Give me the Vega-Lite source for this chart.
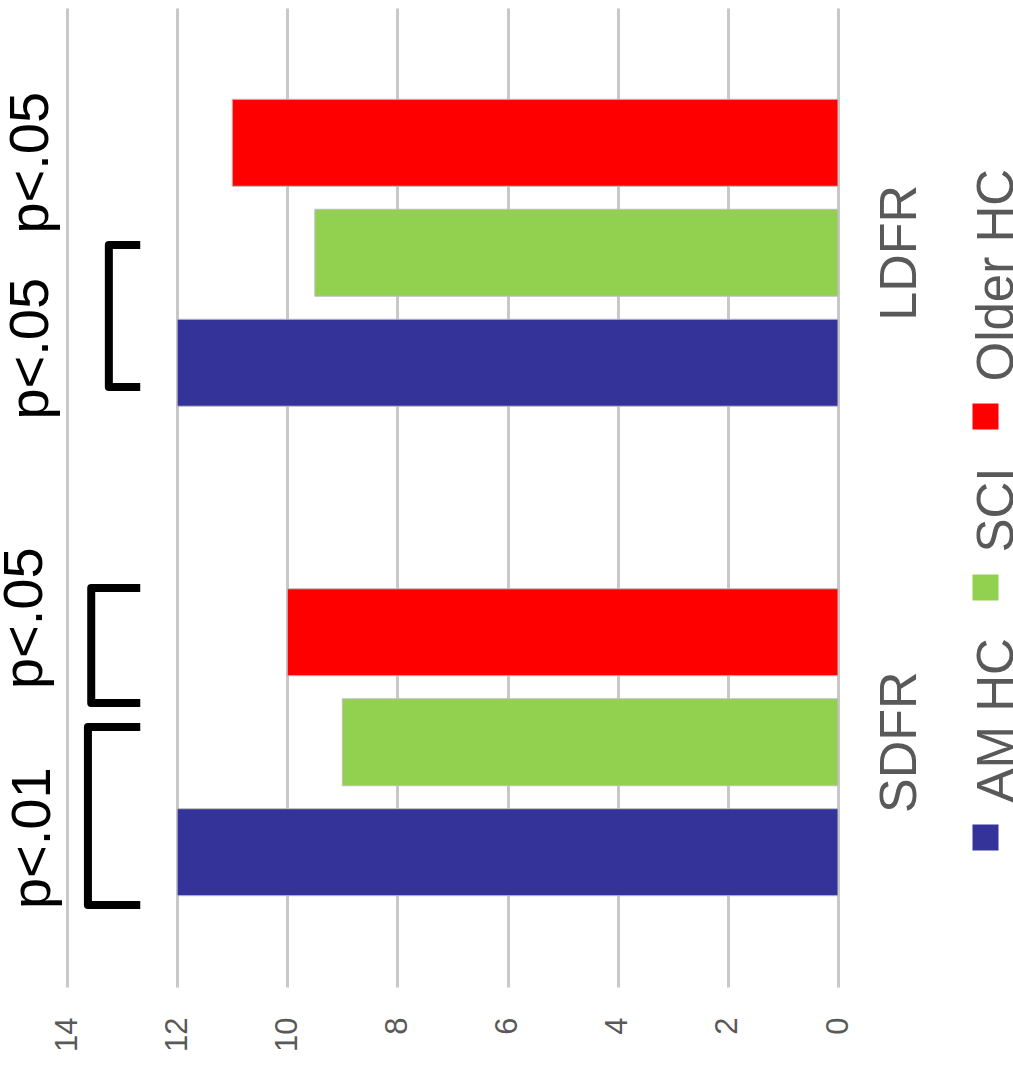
{
  "$schema": "https://vega.github.io/schema/vega-lite/v6.json",
  "width": 771,
  "height": 979,
  "autosize": {"type": "none"},
  "padding": {"left": 67, "top": 8, "right": 175, "bottom": 80},
  "background": "white",
  "config": {
    "view": {"stroke": null},
    "font": "Liberation Sans",
    "style": {"guide-label": {"angle": 270, "dx": 35}}
  },
  "resolve": {"scale": {"yOffset": "independent"}},
  "datasets": {
    "scores": [
      {"measure": "LDFR", "group": "AM HC", "value": 12},
      {"measure": "LDFR", "group": "SCI", "value": 9.5},
      {"measure": "LDFR", "group": "Older HC", "value": 11},
      {"measure": "SDFR", "group": "AM HC", "value": 12},
      {"measure": "SDFR", "group": "SCI", "value": 9},
      {"measure": "SDFR", "group": "Older HC", "value": 10}
    ],
    "brackets": [
      {"id": "L1", "measure": "LDFR", "group": "SCI", "value": 12.67, "step": 1},
      {"id": "L1", "measure": "LDFR", "group": "SCI", "value": 13.24, "step": 2},
      {"id": "L1", "measure": "LDFR", "group": "AM HC", "value": 13.24, "step": 3},
      {"id": "L1", "measure": "LDFR", "group": "AM HC", "value": 12.67, "step": 4},
      {"id": "S1", "measure": "SDFR", "group": "Older HC", "value": 12.67, "step": 1},
      {"id": "S1", "measure": "SDFR", "group": "Older HC", "value": 13.56, "step": 2},
      {"id": "S1", "measure": "SDFR", "group": "SCI", "value": 13.56, "step": 3},
      {"id": "S1", "measure": "SDFR", "group": "SCI", "value": 12.67, "step": 4},
      {"id": "S2", "measure": "SDFR", "group": "SCI", "value": 12.67, "step": 1},
      {"id": "S2", "measure": "SDFR", "group": "SCI", "value": 13.62, "step": 2},
      {"id": "S2", "measure": "SDFR", "group": "AM HC", "value": 13.62, "step": 3},
      {"id": "S2", "measure": "SDFR", "group": "AM HC", "value": 12.67, "step": 4}
    ],
    "pvalues": [
      {"measure": "LDFR", "group": "AM HC", "label": "p<.05", "value": 14.35},
      {"measure": "SDFR", "group": "Older HC", "label": "p<.05", "value": 14.45},
      {"measure": "SDFR", "group": "AM HC", "label": "p<.01", "value": 14.31}
    ],
    "pvalueTop": [
      {"measure": "LDFR", "group": "Older HC", "label": "p<.05", "value": 14.35}
    ]
  },
  "encoding": {
    "y": {
      "field": "measure",
      "type": "nominal",
      "scale": {"domain": ["LDFR", "SDFR"], "paddingInner": 0, "paddingOuter": 0},
      "axis": {
        "orient": "right",
        "title": null,
        "domain": false,
        "ticks": false,
        "labelAngle": 270,
        "labelAlign": "center",
        "labelBaseline": "top",
        "labelPadding": 36,
        "labelOffset": 35,
        "labelFontSize": 52,
        "labelColor": "#595959",
        "labelFont": "Liberation Sans"
      }
    },
    "x": {
      "field": "value",
      "type": "quantitative",
      "scale": {"domain": [0, 14], "reverse": true, "nice": false, "zero": true},
      "axis": {
        "title": null,
        "values": [0, 2, 4, 6, 8, 10, 12, 14],
        "grid": true,
        "gridColor": "#c8c8c8",
        "gridWidth": 3,
        "domain": false,
        "ticks": false,
        "labelAngle": 270,
        "labelAlign": "right",
        "labelBaseline": "middle",
        "labelPadding": 65,
        "labelFontSize": 31,
        "labelColor": "#595959",
        "labelFont": "Liberation Sans"
      }
    }
  },
  "layer": [
    {
      "data": {"name": "scores"},
      "mark": {"type": "bar", "stroke": "#bfbfbf", "strokeWidth": 1},
      "encoding": {
        "yOffset": {
          "field": "group",
          "type": "nominal",
          "scale": {"type": "band", "domain": ["Older HC", "SCI", "AM HC"], "paddingInner": 0.209, "paddingOuter": 0.83}
        },
        "color": {
          "field": "group",
          "type": "nominal",
          "scale": {"domain": ["Older HC", "SCI", "AM HC"], "range": ["#ff0000", "#92d050", "#333399"]},
          "legend": {
            "orient": "none",
            "legendX": 893,
            "legendY": 383,
            "title": null,
            "symbolType": "square",
            "symbolSize": 676,
            "symbolStrokeWidth": 0,
            "symbolOpacity": 1,
            "labelFontSize": 51,
            "labelColor": "#595959",
            "labelFont": "Liberation Sans",
            "labelLimit": 0,
            "labelAlign": "left",
            "labelBaseline": "middle",
            "labelOffset": -13,
            "rowPadding": 37
          }
        }
      }
    },
    {
      "data": {"name": "brackets"},
      "transform": [{"filter": "datum.id === 'L1'"}],
      "mark": {"type": "line", "color": "black", "strokeWidth": 8, "strokeJoin": "round", "clip": false},
      "encoding": {
        "yOffset": {"field": "group", "type": "nominal", "scale": {"type": "band", "domain": ["SCI", "AM HC"], "paddingInner": 0, "paddingOuter": 0.724, "align": 0.808}},
        "detail": {"field": "id"},
        "order": {"field": "step", "type": "quantitative"}
      }
    },
    {
      "data": {"name": "brackets"},
      "transform": [{"filter": "datum.id === 'S1'"}],
      "mark": {"type": "line", "color": "black", "strokeWidth": 8, "strokeJoin": "round", "clip": false},
      "encoding": {
        "yOffset": {"field": "group", "type": "nominal", "scale": {"type": "band", "domain": ["Older HC", "SCI", "AM HC"], "paddingInner": 0, "paddingOuter": 0.628, "align": 0.228}},
        "detail": {"field": "id"},
        "order": {"field": "step", "type": "quantitative"}
      }
    },
    {
      "data": {"name": "brackets"},
      "transform": [{"filter": "datum.id === 'S2'"}],
      "mark": {"type": "line", "color": "black", "strokeWidth": 8, "strokeJoin": "round", "clip": false},
      "encoding": {
        "yOffset": {"field": "group", "type": "nominal", "scale": {"type": "band", "domain": ["SCI", "AM HC"], "paddingInner": 0.5, "paddingOuter": 0.625, "align": 0.831}},
        "detail": {"field": "id"},
        "order": {"field": "step", "type": "quantitative"}
      }
    },
    {
      "data": {"name": "pvalues"},
      "mark": {"type": "text", "angle": 270, "align": "center", "baseline": "alphabetic", "fontSize": 56, "font": "Liberation Sans", "color": "black", "dx": 14, "clip": false},
      "encoding": {
        "yOffset": {
          "field": "group",
          "type": "nominal",
          "scale": {"type": "band", "domain": ["Older HC", "SCI", "AM HC"], "paddingInner": 0.209, "paddingOuter": 0.83}
        },
        "text": {"field": "label"}
      }
    },
    {
      "data": {"name": "pvalueTop"},
      "mark": {"type": "text", "angle": 270, "align": "center", "baseline": "alphabetic", "fontSize": 56, "font": "Liberation Sans", "color": "black", "dx": -20, "clip": false},
      "encoding": {
        "yOffset": {
          "field": "group",
          "type": "nominal",
          "scale": {"type": "band", "domain": ["Older HC", "SCI", "AM HC"], "paddingInner": 0.209, "paddingOuter": 0.83}
        },
        "text": {"field": "label"}
      }
    }
  ]
}
